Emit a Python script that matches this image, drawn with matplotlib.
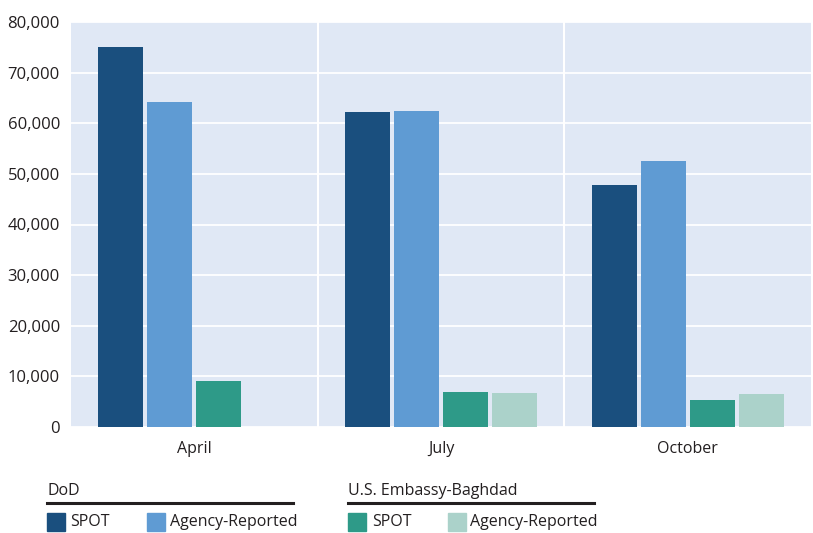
import matplotlib
matplotlib.use("Agg")
import matplotlib.pyplot as plt
import numpy as np
from matplotlib.patches import Rectangle
from matplotlib.lines import Line2D

categories = ["April", "July", "October"]
dod_spot = [75000, 62300, 47900]
dod_agency = [64100, 62500, 52500]
emb_spot = [9000, 6900, 5300]
emb_agency = [np.nan, 6700, 6500]
yticks = [0, 10000, 20000, 30000, 40000, 50000, 60000, 70000, 80000]

colors = ["#1a4f7e", "#5f9bd3", "#2e9a88", "#abd2ca"]
plt.rcParams['font.family'] = ['Open Sans', 'DejaVu Sans']

W, H = 813, 533
fig = plt.figure(figsize=(W/100, H/100), dpi=100)
ax = fig.add_axes([71/W, 1-427/H, (811-71)/W, (427-22)/H])
ax.set_facecolor("#e0e8f5")

x = np.arange(len(categories))
pitch = 49/247
bw = 45/247
series = [dod_spot, dod_agency, emb_spot, emb_agency]
for i, (vals, c) in enumerate(zip(series, colors)):
    ax.bar(x + (i-1.5)*pitch, vals, width=bw, color=c, zorder=3)

ax.set_xlim(-0.5, 2.5)
ax.set_ylim(0, 80000)
ax.set_yticks(yticks)
ax.set_yticklabels([f"{v:,}" for v in yticks], fontsize=12, color="#231f20")
ax.set_xticks(x)
ax.set_xticklabels(categories, fontsize=11.5, color="#231f20")
ax.tick_params(length=0, pad=8)
ax.tick_params(axis='x', pad=10)
for yv in yticks:
    ax.axhline(yv, color="white", lw=1.3, zorder=1)
for xv in [0.5, 1.5]:
    ax.axvline(xv, color="white", lw=1.5, zorder=1)
for s in ax.spines.values():
    s.set_visible(False)

def fy(py):
    return 1 - py/H

def fx(px):
    return px/W

# Legend groups
groups = [("DoD", 47, 293, [(47, 70, "SPOT", colors[0]), (147, 170, "Agency-Reported", colors[1])]),
          ("U.S. Embassy-Baghdad", 348, 594, [(348, 372, "SPOT", colors[2]), (448, 470, "Agency-Reported", colors[3])])]
for title, x0, x1, items in groups:
    fig.text(fx(x0), fy(491), title, fontsize=11.5, va="center", ha="left", color="#231f20")
    fig.add_artist(Line2D([fx(x0), fx(x1)], [fy(503), fy(503)], color="#231f20", lw=2.2))
    for px, tx, lab, c in items:
        fig.add_artist(Rectangle((fx(px), fy(531)), 18/W, 18/H, color=c, transform=fig.transFigure))
        fig.text(fx(tx), fy(522), lab, fontsize=11.5, va="center", ha="left", color="#231f20")

fig.savefig("out.png", dpi=100)
